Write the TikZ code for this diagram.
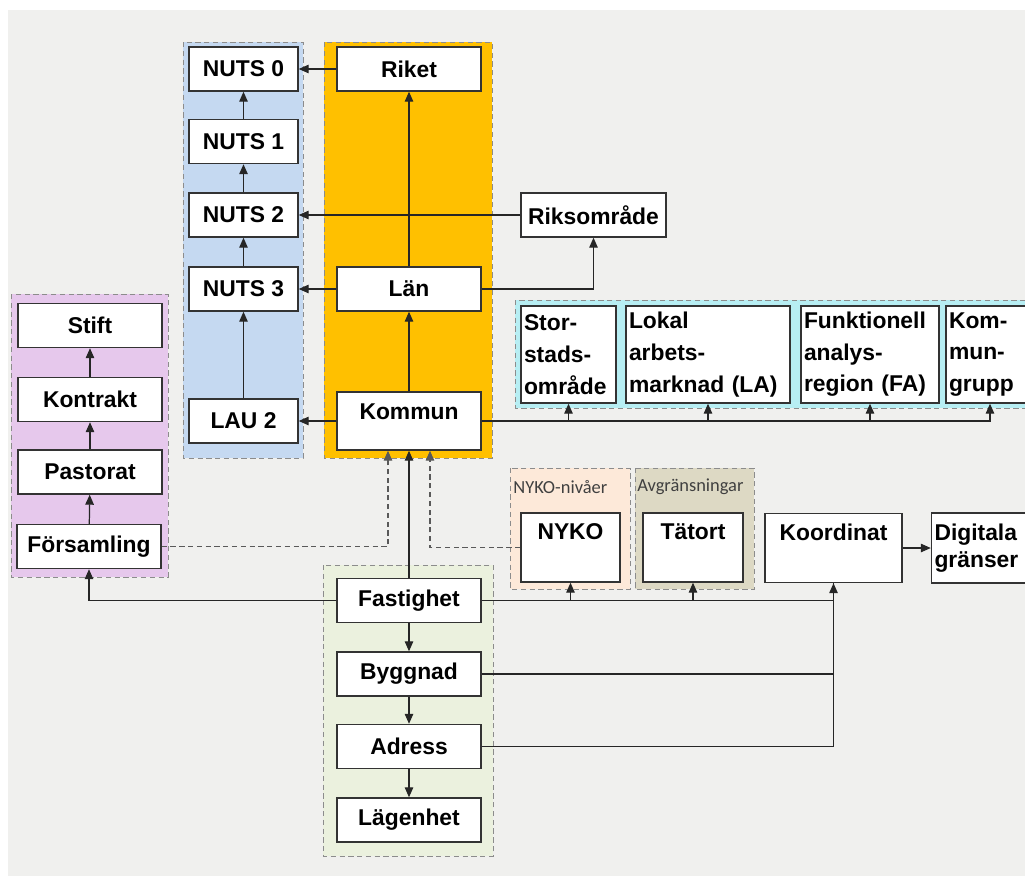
\documentclass[tikz,border=0pt]{standalone}
\usepackage{fontspec}
\setmainfont{Liberation Sans}
\newfontfamily\labelfont{Carlito}
\usetikzlibrary{arrows.meta}
\definecolor{bggray}{RGB}{240,240,238}
\definecolor{nutsblue}{RGB}{197,217,241}
\definecolor{lanorange}{RGB}{255,192,0}
\definecolor{kyrkpink}{RGB}{230,200,236}
\definecolor{regcyan}{RGB}{183,238,243}
\definecolor{fastgreen}{RGB}{235,241,222}
\definecolor{nykopeach}{RGB}{253,233,217}
\definecolor{tatbeige}{RGB}{221,217,196}

\begin{document}
\begin{tikzpicture}[
  box/.style={draw=black!80,line width=0.8pt,fill=white,minimum width=2.88cm,minimum height=0.88cm,inner sep=0.06cm,font=\bfseries\fontsize{13}{18}\selectfont},
  nutsbox/.style={box,minimum width=2.18cm},
  tallbox/.style={box,minimum height=1.38cm,text depth=0.64cm},
  listbox/.style={box,align=left,minimum width=0pt,minimum height=1.94cm},
  panel/.style={draw=black!45,densely dashed,line width=0.5pt},
  grouplabel/.style={anchor=west,inner sep=0pt,text=black!75,font=\labelfont\fontsize{10.5}{12}\selectfont},
  arr/.style={-{Triangle[length=2mm,width=1.7mm]},line width=0.7pt,draw=black!85},
  link/.style={line width=0.7pt,draw=black!85}]
\fill[white] (0,0) rectangle (20.5,-17.52);
\clip (0,0) rectangle (20.5,-17.52);
\fill[bggray] (0.16,-0.2) rectangle (20.5,-17.52);

% panels
\filldraw[panel,fill=nutsblue] (3.66,-0.84) rectangle (6.06,-9.16);
\filldraw[panel,fill=lanorange] (6.48,-0.84) rectangle (9.84,-9.16);
\filldraw[panel,fill=kyrkpink] (0.22,-5.88) rectangle (3.36,-11.54);
\filldraw[panel,fill=regcyan] (10.30,-6.00) rectangle (20.8,-8.16);
\filldraw[panel,fill=fastgreen] (6.46,-11.30) rectangle (9.86,-17.12);
\filldraw[panel,fill=nykopeach] (10.20,-9.36) rectangle (12.60,-11.78);
\filldraw[panel,fill=tatbeige] (12.70,-9.36) rectangle (15.08,-11.78);
\node[grouplabel] (nykolabel) at (10.26,-9.74) {NYKO-nivåer};
\node[grouplabel] (tatlabel) at (12.74,-9.74) {Avgränsningar};

% nodes
\node[nutsbox] (nuts0) at (4.87,-1.38) {NUTS 0};
\node[nutsbox] (nuts1) at (4.87,-2.83) {NUTS 1};
\node[nutsbox] (nuts2) at (4.87,-4.30) {NUTS 2};
\node[nutsbox] (nuts3) at (4.87,-5.78) {NUTS 3};
\node[nutsbox] (lau2) at (4.87,-8.42) {LAU 2};
\node[box] (riket) at (8.18,-1.38) {Riket};
\node[box] (lan) at (8.18,-5.78) {Län};
\node[box,minimum height=1.16cm,text depth=0.38cm] (kommun) at (8.18,-8.42) {Kommun};
\node[box,minimum width=2.9cm] (riksomrade) at (11.87,-4.30) {Riksområde};
\node[box] (stift) at (1.80,-6.51) {Stift};
\node[box] (kontrakt) at (1.80,-7.99) {Kontrakt};
\node[box] (pastorat) at (1.80,-9.44) {Pastorat};
\node[box] (forsamling) at (1.78,-10.93) {Församling};
\node[box] (fastighet) at (8.18,-12.01) {Fastighet};
\node[box] (byggnad) at (8.18,-13.48) {Byggnad};
\node[box] (adress) at (8.18,-14.93) {Adress};
\node[box] (lagenhet) at (8.18,-16.40) {Lägenhet};
\node[listbox,text width=1.78cm] (storstad) at (11.37,-7.09) {Stor-\\stads-\\område};
\node[listbox,text width=3.16cm] (lokal) at (14.16,-7.09) {Lokal\\arbets-\\marknad (LA)};
\node[listbox,text width=2.64cm] (funktionell) at (17.40,-7.09) {Funktionell\\analys-\\region (FA)};
\node[listbox,text width=1.64cm] (kommungrupp) at (19.80,-7.09) {Kom-\\mun-\\grupp};
\node[tallbox,minimum width=1.98cm] (nyko) at (11.41,-10.95) {NYKO};
\node[tallbox,minimum width=2.0cm] (tatort) at (13.86,-10.95) {Tätort};
\node[tallbox,minimum width=2.74cm] (koordinat) at (16.67,-10.96) {Koordinat};
\node[box,align=left,minimum width=0pt,text width=2.62cm,minimum height=1.40cm,font=\bfseries\fontsize{13}{15.5}\selectfont] (digitala) at (20.0,-10.96) {Digitala\\gränser};

% connectors
\draw[arr] (riket) -- (nuts0);
\draw[arr] (nuts1) -- (nuts0);
\draw[arr] (nuts2) -- (nuts1);
\draw[arr] (nuts3) -- (nuts2);
\draw[arr] (lau2) -- (nuts3);
\draw[arr] (riksomrade) -- (nuts2);
\draw[arr] (lan) -- (riket);
\draw[arr] (kommun) -- (lan);
\draw[arr] (lan) -- (nuts3);
\draw[arr] (kommun) -- (lau2);
\draw[arr] (lan.east) -| (riksomrade.south);
\draw[arr] (kommun.east) -| (kommungrupp.south);
\draw[arr] (kommun.east -| storstad.south) -- (storstad.south);
\draw[arr] (kommun.east -| lokal.south) -- (lokal.south);
\draw[arr] (kommun.east -| funktionell.south) -- (funktionell.south);
\draw[arr] (kontrakt) -- (stift);
\draw[arr] (pastorat) -- (kontrakt);
\draw[arr] (forsamling) -- (pastorat);
\draw[arr,densely dashed,draw=black!65] (forsamling.east) -| ([xshift=-0.42cm]kommun.south);
\draw[arr,densely dashed,draw=black!65] (nyko.west) -| ([xshift=0.42cm]kommun.south);
\draw[arr] (fastighet) -- (kommun);
\draw[arr] (fastighet.west) -| (forsamling.south);
\draw[arr] (fastighet) -- (byggnad);
\draw[arr] (byggnad) -- (adress);
\draw[arr] (adress) -- (lagenhet);
\draw[arr] (fastighet.east) -| (koordinat.south);
\draw[arr] (fastighet.east -| nyko.south) -- (nyko.south);
\draw[arr] (fastighet.east -| tatort.south) -- (tatort.south);
\draw[link] (byggnad.east) -| (koordinat.south);
\draw[link] (adress.east) -| (koordinat.south);
\draw[arr] (koordinat) -- (digitala);
\end{tikzpicture}
\end{document}
